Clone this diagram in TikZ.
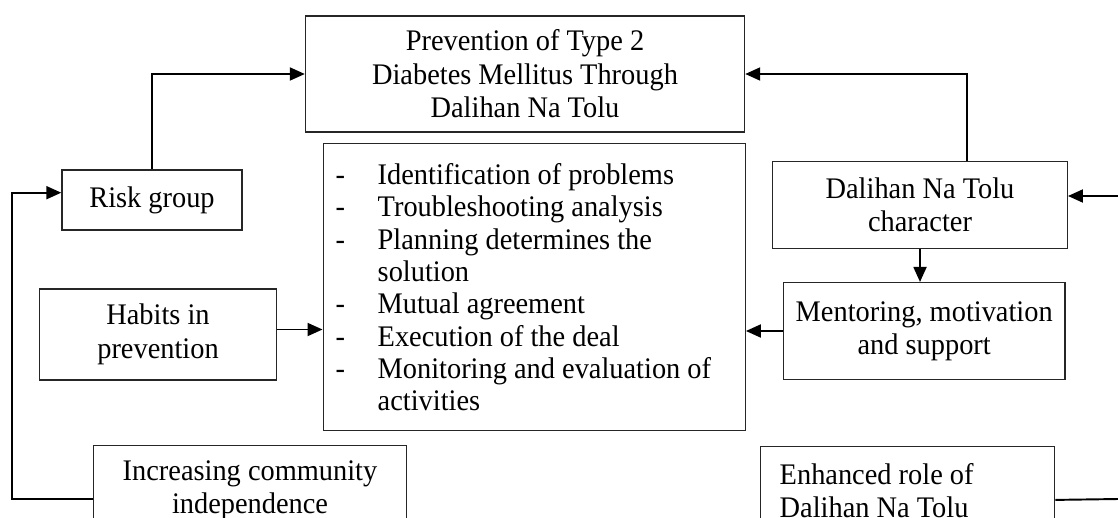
\documentclass[tikz,border=0pt]{standalone}
\usepackage{fontspec}
\setmainfont[FakeStretch=0.95]{Liberation Serif}
\usetikzlibrary{arrows.meta}
\tikzset{
  box/.style={draw=black!85,line width=0.4pt,inner sep=0pt,align=center,
    font=\fontsize{8.5pt}{9.5pt}\selectfont},
  link/.style={line width=0.55pt,-{Triangle[length=1.5mm,width=1.3mm]}},
  plainlink/.style={line width=0.55pt}
}
\newcommand\stepline[1]{\makebox[0.42cm][l]{-}#1}
\begin{document}
\begin{tikzpicture}
\useasboundingbox (0,0) rectangle (11.18,-5.17);
\clip (0,0) rectangle (11.18,-5.17);

\node[box,minimum width=4.39cm,minimum height=1.16cm] (goal) at (5.25,-0.74)
  {Prevention of Type 2\\Diabetes Mellitus Through\\Dalihan Na Tolu};
\node[box,minimum width=1.80cm,minimum height=0.60cm] (risk) at (1.52,-2.00) {Risk group};
\node[box,minimum width=2.37cm,minimum height=0.91cm] (habit) at (1.58,-3.345) {Habits in\\prevention};
\node[box,minimum width=3.13cm,minimum height=0.89cm] (indep) at (2.50,-4.90)
  {Increasing community\\independence};
\node[box,anchor=north west,align=flush left,text width=3.97cm,inner xsep=0.125cm,
  minimum height=2.87cm,font=\fontsize{8.5pt}{9.2pt}\selectfont] (steps) at (3.225,-1.43)
  {\stepline{Identification of problems}\\
   \stepline{Troubleshooting analysis}\\
   \stepline{Planning determines the}\\
   \hspace*{0.42cm}solution\\
   \stepline{Mutual agreement}\\
   \stepline{Execution of the deal}\\
   \stepline{Monitoring and evaluation of}\\
   \hspace*{0.42cm}activities};
\node[box,minimum width=2.945cm,minimum height=0.865cm] (dnt) at (9.20,-2.05)
  {Dalihan Na Tolu\\character};
\node[box,minimum width=2.817cm,minimum height=0.967cm] (mentor) at (9.242,-3.31)
  {Mentoring, motivation\\and support};
\node[box,anchor=north west,align=flush left,text width=2.56cm,inner xsep=0.19cm,
  minimum height=0.89cm] (enh) at (7.60,-4.457)
  {Enhanced role of\\Dalihan Na Tolu};

\coordinate (loop) at (0.123,-1.927);
\coordinate (dntin) at (11.18,-1.96);
\coordinate (enhout) at (11.18,-4.99);

\draw[link] (risk.north) |- (goal.west);
\draw[link] ([xshift=0.467cm]dnt.north) |- (goal.east);
\draw[link] (dntin) -- (dntin -| dnt.east);
\draw[link] (dnt.south) -- (dnt.south |- mentor.north);
\draw[link] (mentor.west) -- (mentor.west -| steps.east);
\draw[link] ([yshift=0.05cm]habit.east) -- ([yshift=0.05cm]habit.east -| steps.west);
\draw[link] ([yshift=-0.09cm]indep.west) -| (loop) -- (loop -| risk.west);
\draw[plainlink] ([yshift=-0.09cm]enh.east) -- (enhout);

\end{tikzpicture}
\end{document}
